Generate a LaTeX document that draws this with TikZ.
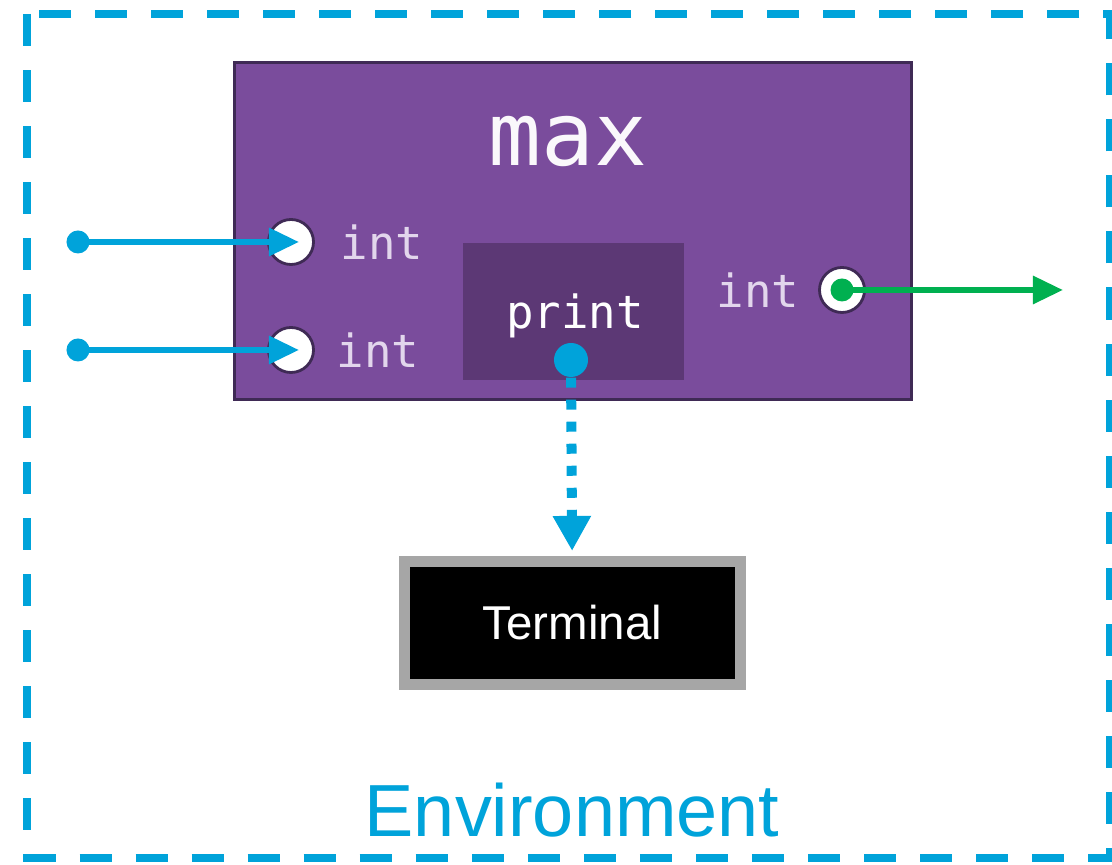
\documentclass[tikz,border=0pt]{standalone}
\usepackage{fontspec}
\setmainfont{Liberation Sans}
\newfontfamily\codefont{DejaVu Sans Mono}
\usetikzlibrary{arrows.meta,positioning}
\definecolor{envblue}{HTML}{00A3DA}
\definecolor{boxpurple}{HTML}{7A4C9C}
\definecolor{printpurple}{HTML}{5C3875}
\definecolor{edgepurple}{HTML}{3F2A55}
\definecolor{outgreen}{HTML}{00B050}
\definecolor{termgray}{HTML}{A6A6A6}
\definecolor{typelabel}{HTML}{E2D6EC}

\begin{document}
\begin{tikzpicture}[x=0.01cm, y=-0.01cm,
    port/.style={circle, draw=edgepurple, line width=0.8pt, fill=white, minimum size=0.45cm, inner sep=0pt},
    blob/.style={circle, fill=#1, minimum size=0.23cm, inner sep=0pt},
    typename/.style={text=typelabel, font=\codefont\fontsize{13}{15}\selectfont},
    wire/.style={line width=1.7pt, -{Triangle[length=0.3cm, width=0.27cm]}}]
  \useasboundingbox (0,0) rectangle (1112,865);
  % the environment around everything
  \draw[envblue, line width=2.1pt, dash pattern=on 0.32cm off 0.24cm] (27,14) rectangle (1110,858);
  \node[text=envblue, font=\fontsize{21}{25}\selectfont] (envlabel) at (572,810) {Environment};
  % the max function
  \node[draw=edgepurple, fill=boxpurple, line width=0.9pt, minimum width=6.76cm, minimum height=3.36cm] (maxbox) at (573,231) {};
  \node[text=white!96!boxpurple, font=\codefont\fontsize{25}{30}\selectfont] (maxlabel) at (568,142) {max};
  \node[fill=printpurple, minimum width=2.21cm, minimum height=1.37cm] (printbox) at (573.5,311.5) {};
  \node[text=white, font=\codefont\fontsize{13}{15}\selectfont] (printlabel) at (575,316) {print};
  \node[blob=envblue, minimum size=0.34cm] (printdot) at (571,360) {};
  % ports
  \node[port] (in1) at (291,242) {};
  \node[port] (in2) at (291,350) {};
  \node[port] (out) at (842,290) {};
  \node[typename] (in1label) at (382,242) {int};
  \node[typename] (in2label) at (378,350) {int};
  \node[typename] (outlabel) at (758,290) {int};
  % inputs
  \node[blob=envblue] (src1) at (78,242) {};
  \node[blob=envblue] (src2) at (78,350) {};
  \draw[wire, envblue] (src1.center) -- ([xshift=0.08cm]in1.center);
  \draw[wire, envblue] (src2.center) -- ([xshift=0.08cm]in2.center);
  % output
  \node[blob=outgreen] (outdot) at (842,290) {};
  \coordinate (outend) at (1063,290);
  \draw[wire, outgreen] (outdot.center) -- (outend);
  % terminal
  \node[draw=termgray, line width=0.11cm, fill=black, minimum width=3.36cm, minimum height=1.23cm,
        text=white, font=\fontsize{13.5}{16}\selectfont] (terminal) at (572.5,623) {Terminal};
  \draw[envblue, line width=0.1cm, dash pattern=on 0.1cm off 0.12cm, shorten >=0.05cm,
        -{Triangle[length=0.35cm, width=0.36cm]}] (printdot) -- (terminal);
\end{tikzpicture}
\end{document}
